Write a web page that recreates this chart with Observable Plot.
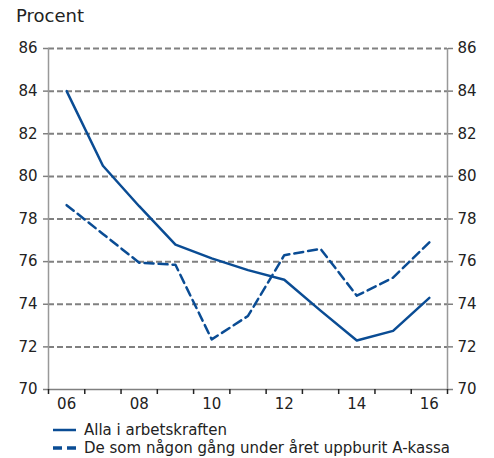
<!DOCTYPE html>
<html><head><meta charset="utf-8">
<script src="https://cdn.jsdelivr.net/npm/d3@7"></script>
<script src="https://cdn.jsdelivr.net/npm/@observablehq/plot@0.6"></script>
<style>
body{margin:0;background:#fff;font-family:"DejaVu Sans",Verdana,sans-serif;color:#222}
#wrap{position:relative;width:494px;height:458px}
#chart{position:absolute;left:0;top:0}
#title{position:absolute;left:16px;top:5px;font-size:18px;line-height:22px}
.leg{position:absolute;left:53px;font-size:15px;line-height:18px;display:flex;align-items:center;white-space:nowrap}
.leg svg{margin-right:7px}
</style></head><body>
<div id="wrap">
<div id="chart"></div>
<div id="title">Procent</div>
<div class="leg" style="top:421px"><svg width="24" height="10"><line x1="0" x2="23" y1="5" y2="5" stroke="#0a4c94" stroke-width="2.5"/></svg>Alla i arbetskraften</div>
<div class="leg" style="top:439px"><svg width="24" height="10"><line x1="0" x2="23" y1="5" y2="5" stroke="#0a4c94" stroke-width="3.5" stroke-dasharray="9,5"/></svg>De som någon gång under året uppburit A-kassa</div>
</div>
<script>
const years = [2006, 2007, 2008, 2009, 2010, 2011, 2012, 2013, 2014, 2015, 2016];
const alla = [84.0, 80.5, 78.6, 76.8, 76.15, 75.6, 75.15, 73.7, 72.3, 72.75, 74.3];
const akassa = [78.65, 77.3, 75.95, 75.85, 72.35, 73.45, 76.3, 76.6, 74.4, 75.25, 76.9];
const yTicks = [70, 72, 74, 76, 78, 80, 82, 84, 86];
const xLabelYears = [2006, 2008, 2010, 2012, 2014, 2016];
const xBounds = [2005.5, 2006.5, 2007.5, 2008.5, 2009.5, 2010.5, 2011.5, 2012.5, 2013.5, 2014.5, 2015.5, 2016.5];

const dAlla = years.map((y, i) => ({year: y, v: alla[i]}));
const dAkassa = years.map((y, i) => ({year: y, v: akassa[i]}));
const blue = "#0a4c94";
const grid = "#808080";

const chart = Plot.plot({
  width: 494, height: 458,
  marginLeft: 48, marginRight: 47, marginTop: 48, marginBottom: 69,
  style: {fontFamily: "'DejaVu Sans', Verdana, sans-serif", fontSize: "15px", color: "#222", background: "transparent"},
  x: {domain: [2005.5, 2016.5]},
  y: {domain: [70, 86]},
  marks: [
    Plot.ruleY(yTicks.filter(v => v > 70), {stroke: grid, strokeWidth: 2, strokeDasharray: "6,3"}),
    Plot.line(dAlla, {x: "year", y: "v", stroke: blue, strokeWidth: 2.5}),
    Plot.line(dAkassa, {x: "year", y: "v", stroke: blue, strokeWidth: 2.5, strokeDasharray: "9,5"}),
    Plot.ruleY([70], {stroke: grid, strokeWidth: 1.5}),
    Plot.ruleX([2005.5, 2016.5], {stroke: "#999", strokeWidth: 1.5}),
    Plot.axisY({ticks: yTicks, anchor: "left", tickSize: 5, tickPadding: 6, label: null, stroke: grid, strokeWidth: 1.5, fill: "#222"}),
    Plot.axisY({ticks: yTicks, anchor: "right", tickSize: 5, tickPadding: 5, label: null, stroke: grid, strokeWidth: 1.5, fill: "#222"}),
    Plot.axisX({ticks: xBounds, tickSize: 5, tickFormat: () => "", label: null, stroke: "#222", strokeWidth: 1.5}),
    Plot.axisX({ticks: xLabelYears, tickSize: 0, tickPadding: 9, tickFormat: d => String(d).slice(2), label: null, fill: "#222"})
  ]
});
document.getElementById("chart").append(chart);
</script>
</body></html>
